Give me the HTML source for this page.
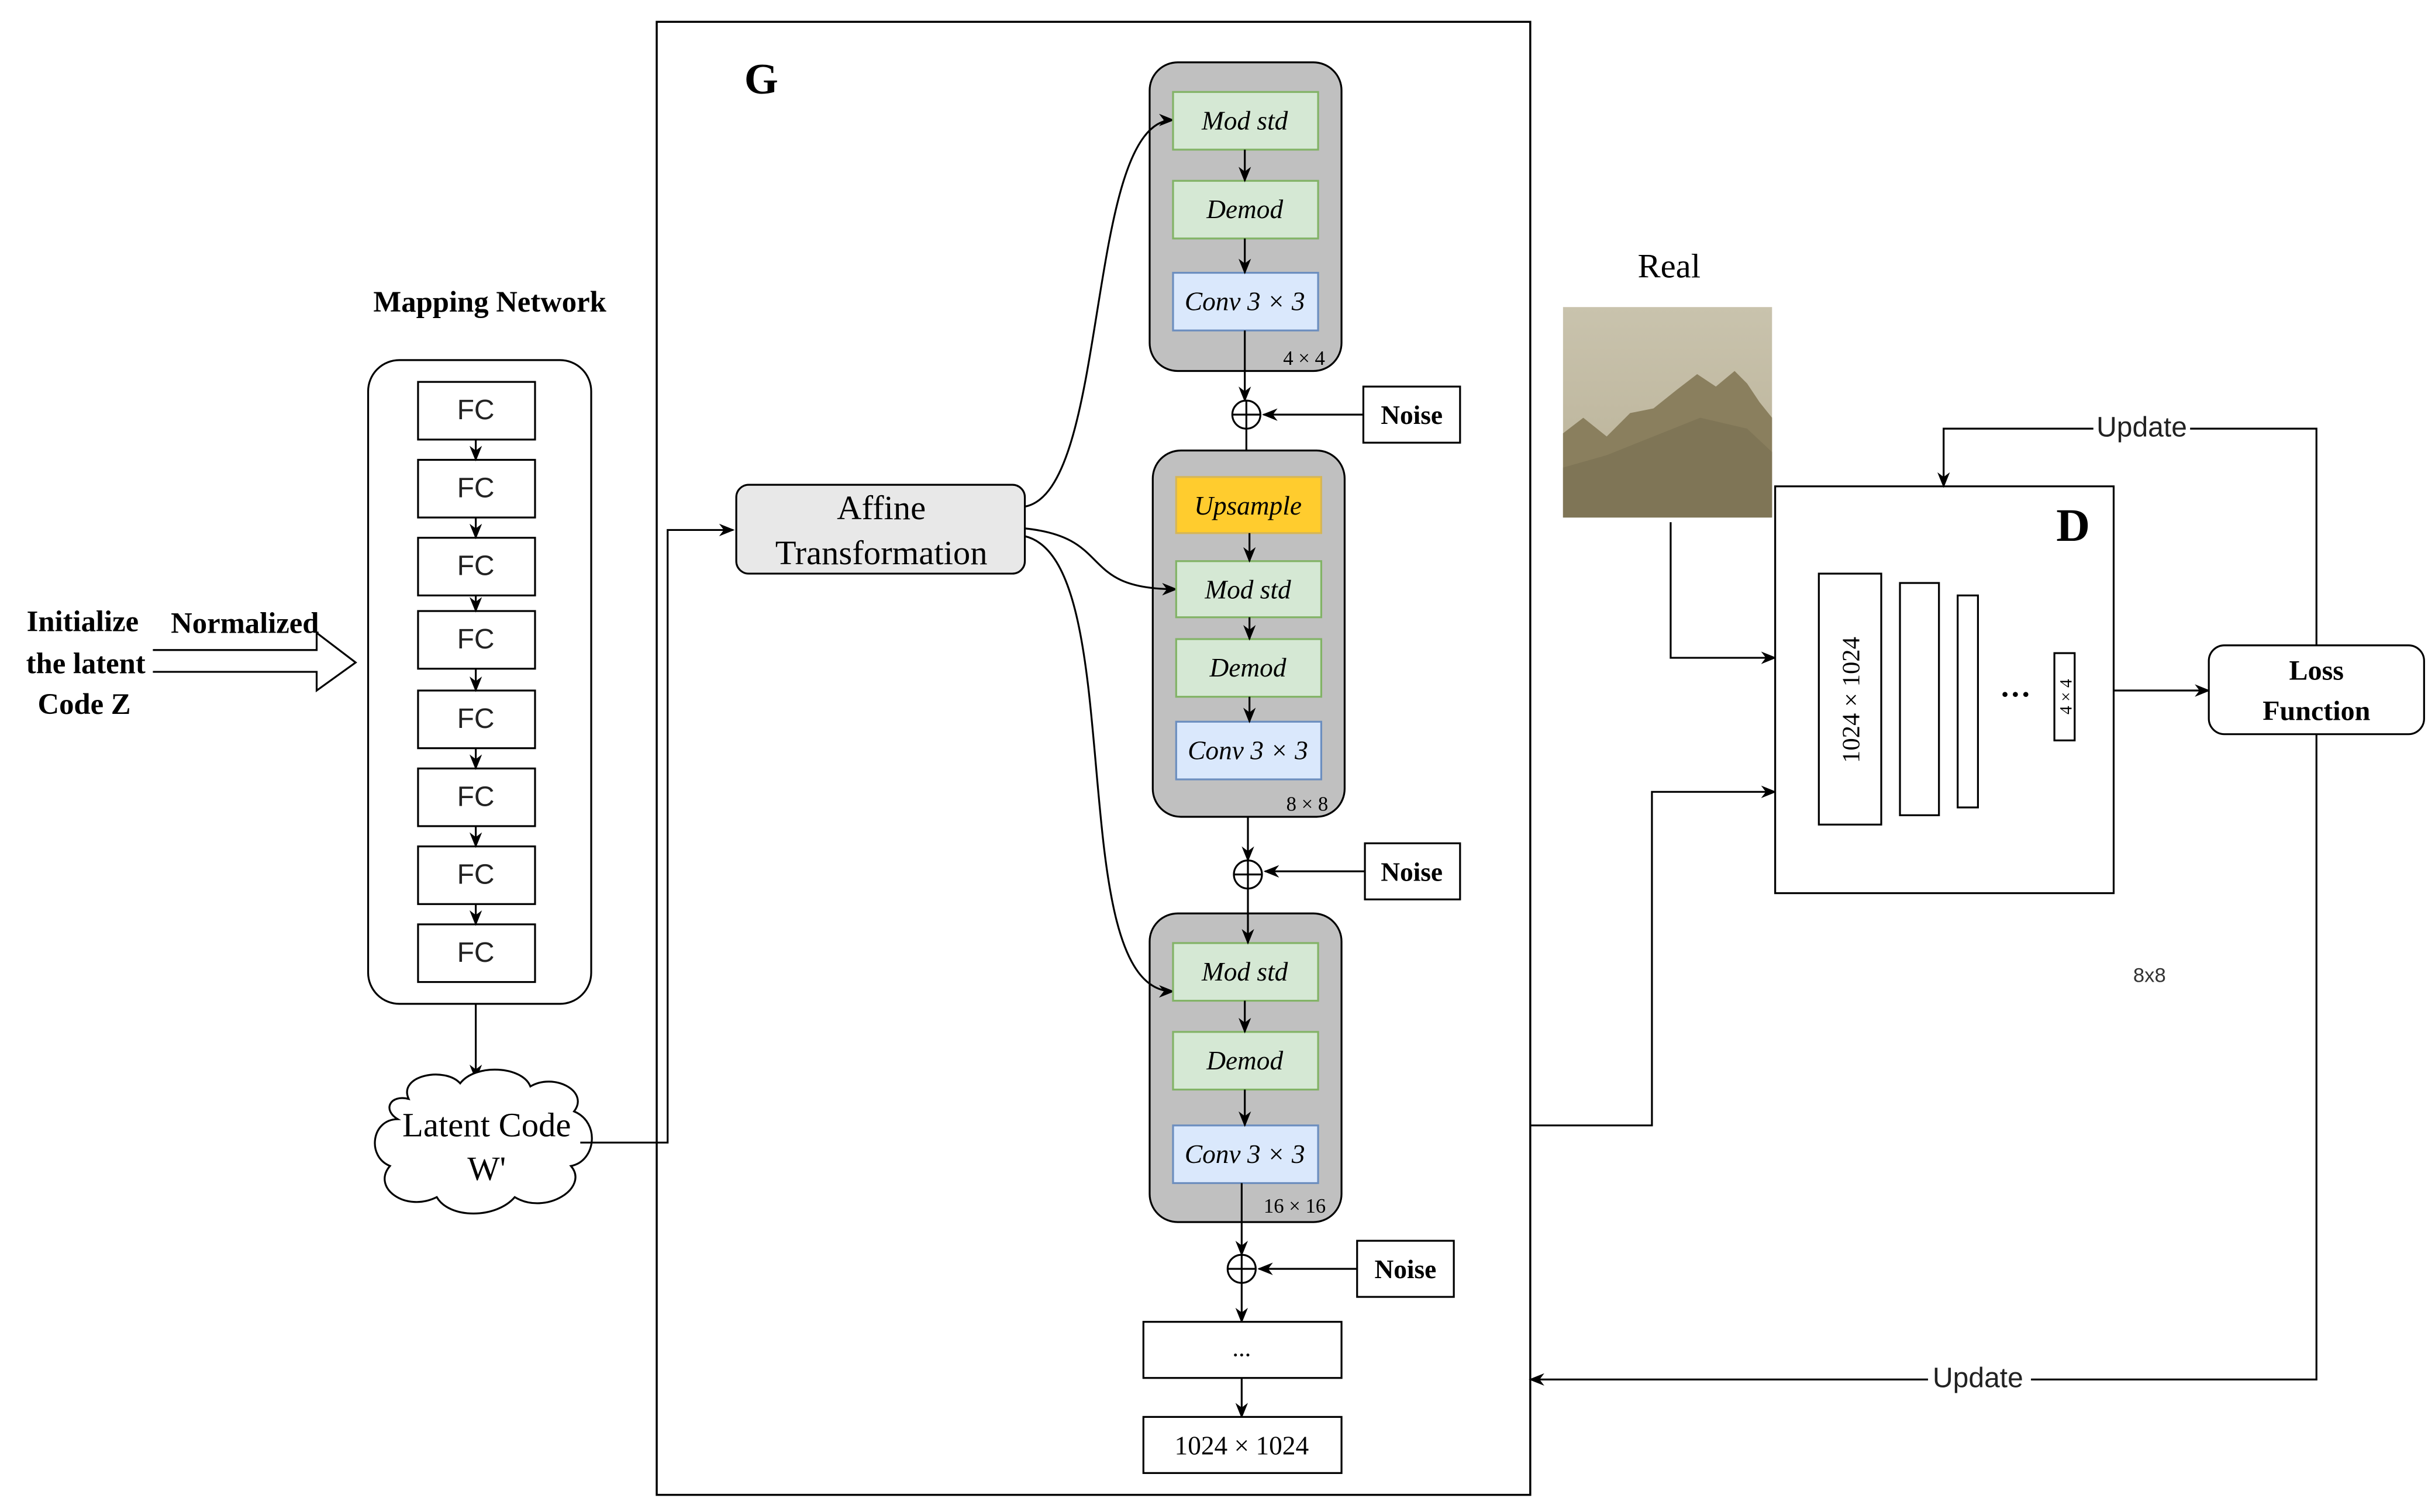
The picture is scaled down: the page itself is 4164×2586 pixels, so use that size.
<!DOCTYPE html>
<html><head><meta charset="utf-8"><style>html,body{margin:0;padding:0;background:#fff}svg{display:block}</style></head>
<body>
<svg width="4164" height="2586" viewBox="0 0 1561 970" preserveAspectRatio="none" xmlns="http://www.w3.org/2000/svg" font-family="Liberation Serif, serif">
<defs>
<marker id="a" markerWidth="10" markerHeight="10" refX="9" refY="5" orient="auto" markerUnits="userSpaceOnUse"><path d="M0,1 L10,5 L0,9 L3,5 z" fill="#000"/></marker>
<linearGradient id="sky" x1="0" y1="0" x2="0" y2="1"><stop offset="0" stop-color="#c9c3ad"/><stop offset="1" stop-color="#b9b197"/></linearGradient>
</defs>
<rect width="1561" height="970" fill="#fff"/>
<rect x="421" y="14" width="560" height="945" fill="none" stroke="#000" stroke-width="1.3"/>
<text x="488" y="60" font-size="28" font-weight="bold" text-anchor="middle">G</text>

<text x="314" y="200" font-size="19" font-weight="bold" text-anchor="middle">Mapping Network</text>
<rect x="236" y="231" width="143" height="413" rx="20" fill="#fff" stroke="#000" stroke-width="1.2"/>
<g fill="#fff" stroke="#000" stroke-width="1.2">
<rect x="268" y="245" width="75" height="37"/><rect x="268" y="295" width="75" height="37"/>
<rect x="268" y="345" width="75" height="37"/><rect x="268" y="392" width="75" height="37"/>
<rect x="268" y="443" width="75" height="37"/><rect x="268" y="493" width="75" height="37"/>
<rect x="268" y="543" width="75" height="37"/><rect x="268" y="593" width="75" height="37"/>
</g>
<g font-family="Liberation Sans, sans-serif" font-size="18" text-anchor="middle" fill="#222">
<text x="305" y="269">FC</text><text x="305" y="319">FC</text><text x="305" y="369">FC</text><text x="305" y="416">FC</text>
<text x="305" y="467">FC</text><text x="305" y="517">FC</text><text x="305" y="567">FC</text><text x="305" y="617">FC</text>
</g>
<g stroke="#000" stroke-width="1.2" marker-end="url(#a)">
<line x1="305" y1="282" x2="305" y2="295"/><line x1="305" y1="332" x2="305" y2="345"/>
<line x1="305" y1="382" x2="305" y2="392"/><line x1="305" y1="429" x2="305" y2="443"/>
<line x1="305" y1="480" x2="305" y2="493"/><line x1="305" y1="530" x2="305" y2="543"/>
<line x1="305" y1="580" x2="305" y2="593"/><line x1="305" y1="644" x2="305" y2="692"/>
</g>
<path d="M262,705 C255,690 285,684 295,695 C305,682 335,684 340,697 C355,688 378,700 368,713 C385,720 382,745 366,748 C378,762 350,780 330,768 C318,782 288,782 280,768 C260,778 238,762 250,748 C235,742 238,718 255,718 C245,712 250,702 262,705 z" fill="#fff" stroke="#000" stroke-width="1.2"/>
<text x="312" y="729" font-size="22" text-anchor="middle">Latent Code</text>
<text x="312" y="757" font-size="22" text-anchor="middle">W'</text>
<polyline points="372,733 428,733 428,340 470,340" fill="none" stroke="#000" stroke-width="1.2" marker-end="url(#a)"/>

<g font-size="19" font-weight="bold" text-anchor="middle">
<text x="53" y="405">Initialize</text><text x="55" y="432">the latent</text><text x="54" y="458">Code Z</text>
<text x="157" y="406">Normalized</text></g>
<path d="M98,417 L203,417 L203,406 L228,425 L203,443 L203,431 L98,431" fill="#fff" stroke="#000" stroke-width="1.2"/>

<rect x="472" y="311" width="185" height="57" rx="8" fill="#e8e8e8" stroke="#000" stroke-width="1.2"/>
<text x="565" y="333" font-size="22" text-anchor="middle">Affine</text>
<text x="565" y="362" font-size="22" text-anchor="middle">Transformation</text>

<g stroke="#000" stroke-width="1.2" fill="#c0c0c0">
<rect x="737" y="40" width="123" height="198" rx="18"/>
<rect x="739" y="289" width="123" height="235" rx="18"/>
<rect x="737" y="586" width="123" height="198" rx="18"/>
</g>
<g fill="none" stroke="#000" stroke-width="1.2" marker-end="url(#a)">
<path d="M657,325 C712,315 695,77 752,77"/>
<path d="M657,339 C715,345 690,378 754,378"/>
<path d="M657,344 C725,360 680,636 752,636"/>
</g>
<g stroke="#82b366" stroke-width="1.2" fill="#d5e8d4">
<rect x="752" y="59" width="93" height="37"/><rect x="752" y="116" width="93" height="37"/>
<rect x="754" y="360" width="93" height="36"/><rect x="754" y="410" width="93" height="37"/>
<rect x="752" y="605" width="93" height="37"/><rect x="752" y="662" width="93" height="37"/>
</g>
<g stroke="#6c8ebf" stroke-width="1.2" fill="#dae8fc">
<rect x="752" y="175" width="93" height="37"/><rect x="754" y="463" width="93" height="37"/><rect x="752" y="722" width="93" height="37"/>
</g>
<rect x="754" y="306" width="93" height="36" fill="#ffcc2e" stroke="#d6b656" stroke-width="1.2"/>
<g font-size="17" font-style="italic" text-anchor="middle">
<text x="798" y="83">Mod std</text><text x="798" y="140">Demod</text><text x="798" y="199">Conv 3 × 3</text>
<text x="800" y="330">Upsample</text><text x="800" y="384">Mod std</text><text x="800" y="434">Demod</text><text x="800" y="487">Conv 3 × 3</text>
<text x="798" y="629">Mod std</text><text x="798" y="686">Demod</text><text x="798" y="746">Conv 3 × 3</text>
</g>
<g font-size="13" text-anchor="middle"><text x="836" y="234">4 × 4</text><text x="838" y="520">8 × 8</text><text x="830" y="778">16 × 16</text></g>
<g stroke="#000" stroke-width="1.2" marker-end="url(#a)">
<line x1="798" y1="96" x2="798" y2="116"/><line x1="798" y1="153" x2="798" y2="175"/>
<line x1="801" y1="342" x2="801" y2="360"/><line x1="801" y1="396" x2="801" y2="410"/><line x1="801" y1="447" x2="801" y2="463"/>
<line x1="798" y1="642" x2="798" y2="662"/><line x1="798" y1="699" x2="798" y2="722"/>
<line x1="798" y1="212" x2="798" y2="257"/>
<line x1="800" y1="524" x2="800" y2="552"/>
<line x1="800" y1="570" x2="800" y2="605"/>
<line x1="796" y1="759" x2="796" y2="805"/>
<line x1="796" y1="823" x2="796" y2="848"/>
<line x1="796" y1="884" x2="796" y2="909"/>
<line x1="874" y1="266" x2="810" y2="266"/>
<line x1="875" y1="559" x2="811" y2="559"/>
<line x1="870" y1="814" x2="807" y2="814"/>
</g>
<line x1="799" y1="275" x2="799" y2="289" stroke="#000" stroke-width="1.2"/>
<g fill="#fff" stroke="#000" stroke-width="1.2">
<circle cx="799" cy="266" r="9"/><circle cx="800" cy="561" r="9"/><circle cx="796" cy="814" r="9"/>
</g>
<g stroke="#000" stroke-width="1.2">
<line x1="790" y1="266" x2="808" y2="266"/><line x1="799" y1="257" x2="799" y2="275"/>
<line x1="791" y1="561" x2="809" y2="561"/><line x1="800" y1="552" x2="800" y2="570"/>
<line x1="787" y1="814" x2="805" y2="814"/><line x1="796" y1="805" x2="796" y2="823"/>
</g>
<g fill="#fff" stroke="#000" stroke-width="1.2">
<rect x="874" y="248" width="62" height="36"/><rect x="875" y="541" width="61" height="36"/><rect x="870" y="796" width="62" height="36"/>
<rect x="733" y="848" width="127" height="36"/><rect x="733" y="909" width="127" height="36"/>
</g>
<g font-size="17" font-weight="bold" text-anchor="middle">
<text x="905" y="272">Noise</text><text x="905" y="565">Noise</text><text x="901" y="820">Noise</text></g>
<text x="796" y="870" font-size="16" text-anchor="middle">...</text>
<text x="796" y="933" font-size="17" text-anchor="middle">1024 × 1024</text>

<text x="1070" y="178" font-size="22" text-anchor="middle">Real</text>
<rect x="1002" y="197" width="134" height="135" fill="url(#sky)"/>
<path d="M1002,278 L1015,268 L1030,280 L1045,265 L1060,262 L1075,250 L1088,240 L1100,248 L1112,238 L1120,246 L1128,258 L1136,268 L1136,332 L1002,332 z" fill="#8a7f5e"/>
<path d="M1002,300 L1030,292 L1060,280 L1090,268 L1120,275 L1136,290 L1136,332 L1002,332 z" fill="#7a7052" opacity="0.7"/>
<polyline points="1071,335 1071,422 1138,422" fill="none" stroke="#000" stroke-width="1.2" marker-end="url(#a)"/>
<polyline points="981,722 1059,722 1059,508 1138,508" fill="none" stroke="#000" stroke-width="1.2" marker-end="url(#a)"/>

<rect x="1138" y="312" width="217" height="261" fill="#fff" stroke="#000" stroke-width="1.2"/>
<text x="1329" y="347" font-size="30" font-weight="bold" text-anchor="middle">D</text>
<g fill="#fff" stroke="#000" stroke-width="1.2">
<rect x="1166" y="368" width="40" height="161"/><rect x="1218" y="374" width="25" height="149"/>
<rect x="1255" y="382" width="13" height="136"/><rect x="1317" y="419" width="13" height="56"/>
</g>
<text transform="translate(1192,449) rotate(-90)" font-size="16" text-anchor="middle">1024 × 1024</text>
<text transform="translate(1328,447) rotate(-90)" font-size="11" text-anchor="middle">4 × 4</text>
<text x="1292" y="452" font-size="20" font-weight="bold" text-anchor="middle">···</text>
<line x1="1355" y1="443" x2="1416" y2="443" stroke="#000" stroke-width="1.2" marker-end="url(#a)"/>
<rect x="1416" y="414" width="138" height="57" rx="10" fill="#fff" stroke="#000" stroke-width="1.2"/>
<text x="1485" y="436" font-size="18" font-weight="bold" text-anchor="middle">Loss</text>
<text x="1485" y="462" font-size="18" font-weight="bold" text-anchor="middle">Function</text>
<polyline points="1485,414 1485,275 1246,275 1246,312" fill="none" stroke="#000" stroke-width="1.2" marker-end="url(#a)"/>
<polyline points="1485,471 1485,885 981,885" fill="none" stroke="#000" stroke-width="1.2" marker-end="url(#a)"/>
<rect x="1342" y="264" width="62" height="20" fill="#fff"/>
<text x="1373" y="280" font-family="Liberation Sans, sans-serif" font-size="18" text-anchor="middle" fill="#222">Update</text>
<rect x="1236" y="874" width="66" height="20" fill="#fff"/>
<text x="1268" y="890" font-family="Liberation Sans, sans-serif" font-size="18" text-anchor="middle" fill="#222">Update</text>
<text x="1378" y="630" font-family="Liberation Sans, sans-serif" font-size="13" text-anchor="middle" fill="#333">8x8</text>
</svg>
</body></html>
